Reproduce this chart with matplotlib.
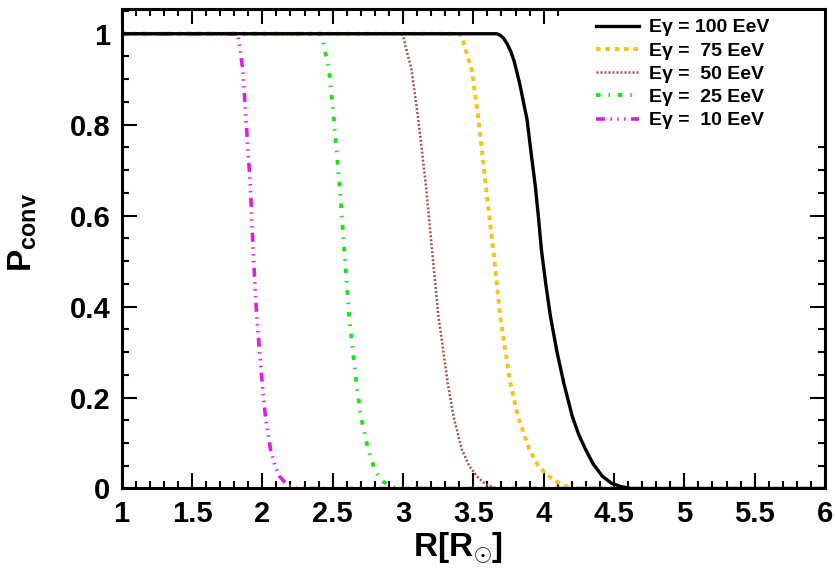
import matplotlib
matplotlib.use("Agg")
import matplotlib.pyplot as plt
from matplotlib.patches import Rectangle
from matplotlib.ticker import MultipleLocator

plt.rcParams["font.family"] = ["Liberation Sans", "DejaVu Sans"]
plt.rcParams["font.weight"] = "bold"
plt.rcParams["mathtext.fontset"] = "custom"
plt.rcParams["mathtext.rm"] = "Liberation Sans:bold"
plt.rcParams["mathtext.bf"] = "Liberation Sans:bold"
plt.rcParams["mathtext.it"] = "Liberation Sans:bold"

# P_conv
p_drop = [1, 1, 0.99, 0.97, 0.921, 0.811, 0.664, 0.52, 0.379, 0.232, 0.159,
          0.086, 0.05, 0.027, 0.015, 0.006, 0, 0]

r_75 = [1.0, 3.40, 3.42, 3.44, 3.489, 3.537, 3.589, 3.644, 3.691, 3.763, 3.817,
        3.898, 3.96, 4.036, 4.09, 4.15, 4.22, 4.5]
r_50 = [1.0, 2.99, 3.005, 3.02, 3.061, 3.109, 3.164, 3.208, 3.252, 3.318, 3.359,
        3.418, 3.47, 3.525, 3.565, 3.61, 3.67, 4.5]
r_25 = [1.0, 2.415, 2.428, 2.44, 2.474, 2.509, 2.55, 2.584, 2.617, 2.669, 2.70,
        2.752, 2.79, 2.824, 2.86, 2.90, 2.96, 4.5]
r_10 = [1.0, 1.82, 1.83, 1.84, 1.861, 1.884, 1.915, 1.935, 1.96, 1.999, 2.022,
        2.058, 2.09, 2.122, 2.155, 2.19, 2.25, 4.5]

r_100 = [1.0, 3.667, 3.69, 3.715, 3.74, 3.765, 3.79, 3.83, 3.882, 3.91, 3.941,
         3.965, 3.984, 4.015, 4.048, 4.095, 4.143, 4.203, 4.25, 4.298, 4.35,
         4.417, 4.48, 4.55, 4.62, 6.0]
p_100 = [1, 1, 0.997, 0.99, 0.978, 0.962, 0.94, 0.89, 0.811, 0.74, 0.664,
         0.59, 0.525, 0.45, 0.379, 0.30, 0.232, 0.159, 0.118, 0.086, 0.055,
         0.027, 0.012, 0.004, 0, 0]

labels = ["E\u03b3 = 100 EeV", "E\u03b3 =  75 EeV", "E\u03b3 =  50 EeV",
          "E\u03b3 =  25 EeV", "E\u03b3 =  10 EeV"]

fig = plt.figure(figsize=(8.35, 5.74), dpi=100)
ax = fig.add_axes([0.1457, 0.149, 0.8423, 0.835])

ax.plot(r_100, p_100, color="black", lw=2.4, label=labels[0], zorder=3)
ax.plot(r_75, p_drop, color="#f5c21b", lw=2.8, ls=(0, (1.2, 1.2)), label=labels[1])
ax.plot(r_50, p_drop, color="#a0524f", lw=1.8, ls=(0, (0.8, 0.8)), label=labels[2])
ax.plot(r_25, p_drop, color="#1fe01f", lw=2.8, ls=(0, (1.2, 2.0, 0.4, 2.0)), label=labels[3])
ax.plot(r_10, p_drop, color="#e21ee2", lw=2.6, ls=(0, (2.5, 1.5, 0.4, 1.5, 0.4, 1.5, 0.4, 1.5)),
        label=labels[4])

ax.set_xlim(1, 6)
ax.set_ylim(0, 1.054)
ax.xaxis.set_minor_locator(MultipleLocator(0.1))
ax.yaxis.set_minor_locator(MultipleLocator(0.05))
ax.set_xticks([1, 1.5, 2, 2.5, 3, 3.5, 4, 4.5, 5, 5.5, 6])
ax.set_xticklabels(["1", "1.5", "2", "2.5", "3", "3.5", "4", "4.5", "5", "5.5", "6"])
ax.set_yticks([0, 0.2, 0.4, 0.6, 0.8, 1.0])
ax.set_yticklabels(["0", "0.2", "0.4", "0.6", "0.8", "1"])

ax.tick_params(which="both", direction="in", top=True, right=True, width=1.5,
               labelsize=21, pad=8)
ax.tick_params(which="major", length=11)
ax.tick_params(which="minor", length=5)
for s in ax.spines.values():
    s.set_linewidth(2.2)
    s.set_zorder(6)

ax.set_xlabel(r"$\mathbf{R[R}_{\!\odot}\!\mathbf{]}$", fontsize=24)
ax.xaxis.set_label_coords(0.478, -0.088)
ax.set_ylabel(r"$\mathbf{P}_{\mathbf{conv}}$", fontsize=24)
ax.yaxis.set_label_coords(-0.117, 0.535)

# white legend pad hiding the ticks behind it
ax.add_patch(Rectangle((0.63, 0.727), 0.37, 0.273, transform=ax.transAxes,
                       facecolor="white", edgecolor="none", zorder=4, clip_on=False))

ax.legend(loc="upper left", bbox_to_anchor=(0.675, 0.98), frameon=False,
          fontsize=14, handlelength=2.2, handletextpad=0.5, labelspacing=0.29,
          borderpad=0, borderaxespad=0)

fig.savefig("out.png", dpi=100)
